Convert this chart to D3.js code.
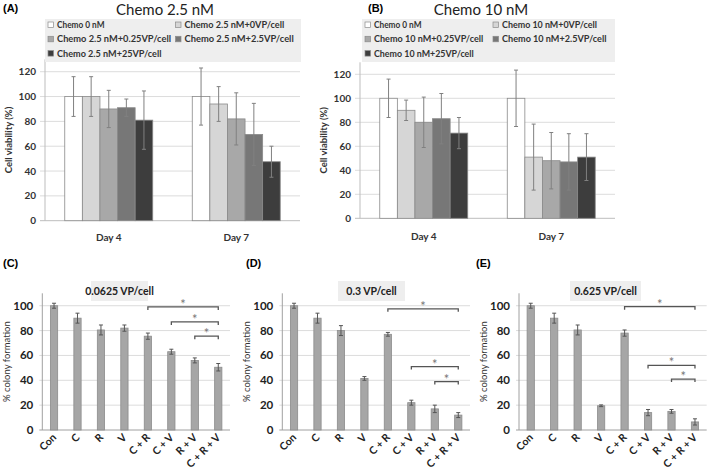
<!DOCTYPE html>
<html>
<head>
<meta charset="utf-8">
<script src="https://cdn.jsdelivr.net/npm/d3@7"></script>
<style>
  body { margin: 0; background: #fff; }
  svg { display: block; font-family: Lato, "Open Sans", sans-serif; }
</style>
</head>
<body>
<svg id="fig" width="709" height="476"></svg>
<script>
// ---- data ----
const days = ["Day 4", "Day 7"];
const legendA = ["Chemo 0 nM", "Chemo 2.5 nM+0VP/cell", "Chemo 2.5 nM+0.25VP/cell", "Chemo 2.5 nM+2.5VP/cell", "Chemo 2.5 nM+25VP/cell"];
const legendB = ["Chemo 0 nM", "Chemo 10 nM+0VP/cell", "Chemo 10 nM+0.25VP/cell", "Chemo 10 nM+2.5VP/cell", "Chemo 10 nM+25VP/cell"];
const viabA = [[100, 100, 90, 91, 81], [100, 94, 82, 69.5, 47.5]];
const viabAErr = [[16, 16, 15, 7, 23.5], [23, 14, 21, 25, 12.5]];
const viabB = [[100, 90, 80, 83, 71], [100, 51, 48, 47, 51]];
const viabBErr = [[16, 8.5, 21, 21, 13], [23.5, 27.5, 23.5, 23.5, 19.5]];
const viabTicks = [0, 20, 40, 60, 80, 100, 120];

const treatments = ["Con", "C", "R", "V", "C + R", "C + V", "R + V", "C + R + V"];
const colonyC = [100, 90, 80.5, 82, 75.5, 63, 56, 50.5];
const colonyCErr = [2, 4, 4, 2.5, 2.5, 2, 2, 3];
const colonyD = [100, 90, 80, 41.5, 77, 22, 17, 12];
const colonyDErr = [2, 4, 4, 1.5, 1.5, 2, 3, 2];
const colonyE = [100, 90, 80.5, 19.5, 78, 14, 15, 6.5];
const colonyEErr = [2, 4, 4, 0.7, 2.5, 2.5, 1.5, 2.5];
const bracketsC = [["C + R", "C + R + V", 99], ["C + V", "C + R + V", 87], ["R + V", "C + R + V", 75.5]];
const bracketsD = [["C + R", "C + R + V", 97.5], ["C + V", "C + R + V", 51], ["R + V", "C + R + V", 39]];
const bracketsE = [["C + R", "C + R + V", 99.2], ["C + V", "C + R + V", 52], ["R + V", "C + R + V", 41]];
const colonyTicks = [0, 20, 40, 60, 80, 100];

const shades = ["#ffffff", "#d6d6d6", "#a8a8a8", "#777777", "#3d3d3d"];

const svg = d3.select("#fig");

function panelLabel(txt, x, y) {
  svg.append("text").attr("x", x).attr("y", y)
    .style("font-family", "Arial, 'Liberation Sans', sans-serif")
    .style("font-size", "11px").style("font-weight", "bold").text(txt);
}

function viabilityPanel(o) {
  const g = svg.append("g");
  const y = d3.scaleLinear().domain([0, 130]).range([o.y0, o.yTop]);
  const x0 = d3.scaleBand().domain(days).range([o.left, o.right]).paddingInner(0.31).paddingOuter(0.155);
  const x1 = d3.scaleBand().domain(d3.range(5)).range([0, x0.bandwidth()]);

  // gridlines
  g.selectAll(".grid").data(viabTicks).join("line")
    .attr("x1", o.left - 5).attr("x2", o.right)
    .attr("y1", d => y(d)).attr("y2", d => y(d))
    .attr("stroke", d => d === 0 ? "#bdbdbd" : "#dcdcdc").attr("stroke-width", 1);
  g.append("line").attr("x1", o.left).attr("x2", o.left).attr("y1", y(130)).attr("y2", y(0))
    .attr("stroke", "#bdbdbd");
  g.selectAll(".tl").data(viabTicks).join("text")
    .attr("x", o.left - 9).attr("y", d => y(d) + 3.5).attr("text-anchor", "end")
    .style("font-size", "10px").style("font-weight", "bold").style("fill", "#333").text(d => d);
  g.append("text").attr("transform", `translate(${o.left - 33},${(y(0) + y(130)) / 2}) rotate(-90)`)
    .attr("text-anchor", "middle").style("font-size", "9.5px").style("font-weight", "bold").style("fill", "#333")
    .text("Cell viability (%)");

  days.forEach((day, di) => {
    const gg = g.append("g").attr("transform", `translate(${x0(day)},0)`);
    gg.selectAll("rect").data(o.vals[di]).join("rect")
      .attr("x", (d, i) => x1(i)).attr("width", x1.bandwidth())
      .attr("y", d => y(d)).attr("height", d => y(0) - y(d))
      .attr("fill", (d, i) => shades[i]).attr("stroke", "#8a8a8a").attr("stroke-width", 0.8);
    o.errs[di].forEach((e, i) => {
      const cx = x1(i) + x1.bandwidth() / 2, v = o.vals[di][i];
      gg.append("line").attr("x1", cx).attr("x2", cx).attr("y1", y(v + e)).attr("y2", y(v - e)).attr("stroke", "#808080");
      [v + e, v - e].forEach(t => gg.append("line").attr("x1", cx - 2).attr("x2", cx + 2)
        .attr("y1", y(t)).attr("y2", y(t)).attr("stroke", "#808080"));
    });
    g.append("text").attr("x", x0(day) + x0.bandwidth() / 2).attr("y", o.dayY).attr("text-anchor", "middle")
      .style("font-size", "10px").style("font-weight", "bold").style("fill", "#333").text(day);
  });

  // title + legend
  g.append("text").attr("x", o.titleX).attr("y", 15).attr("text-anchor", "middle")
    .style("font-size", "15px").style("fill", "#222").text(o.title);
  g.append("rect").attr("x", o.legX).attr("y", 19).attr("width", o.legW).attr("height", 43).attr("fill", "#eeeeee");
  o.legend.forEach((t, i) => {
    const lx = o.legX + 3 + (i % 2) * o.colW, ly = 28 + Math.floor(i / 2) * 14.3;
    g.append("rect").attr("x", lx).attr("y", ly - 6).attr("width", 5.5).attr("height", 5.5)
      .attr("fill", shades[i]).attr("stroke", "#8a8a8a").attr("stroke-width", 0.7);
    g.append("text").attr("x", lx + 9).attr("y", ly).style("font-size", "9.5px").style("font-weight", "bold")
      .style("fill", "#333").attr("textLength", t.length * 4.75).attr("lengthAdjust", "spacingAndGlyphs").text(t);
  });
}

function colonyPanel(o) {
  const g = svg.append("g");
  const y = d3.scaleLinear().domain([0, 110]).range([430, 293.3]);
  const x = d3.scaleBand().domain(treatments).range([o.left, o.right]).paddingInner(0.69).paddingOuter(0.345);
  g.selectAll(".grid").data(colonyTicks).join("line")
    .attr("x1", o.left - 3).attr("x2", o.right)
    .attr("y1", d => y(d)).attr("y2", d => y(d))
    .attr("stroke", d => d === 0 ? "#a0a0a0" : "#dcdcdc");
  g.append("line").attr("x1", o.left).attr("x2", o.left).attr("y1", y(110)).attr("y2", y(0)).attr("stroke", "#a0a0a0");
  g.selectAll(".tl").data(colonyTicks).join("text")
    .attr("x", o.left - 9).attr("y", d => y(d) + 4).attr("text-anchor", "end")
    .style("font-size", "11.5px").style("font-weight", "bold").style("fill", "#222").text(d => d);
  g.append("text").attr("transform", `translate(${o.left - 32},${(y(0) + y(110)) / 2}) rotate(-90)`)
    .attr("text-anchor", "middle").style("font-size", "9.5px").style("fill", "#333").text("% colony formation");

  g.selectAll(".bar").data(o.vals).join("rect")
    .attr("x", (d, i) => x(treatments[i])).attr("width", x.bandwidth())
    .attr("y", d => y(d)).attr("height", d => y(0) - y(d))
    .attr("fill", "#a6a6a6").attr("stroke", "#8c8c8c").attr("stroke-width", 0.8);
  o.errs.forEach((e, i) => {
    const cx = x(treatments[i]) + x.bandwidth() / 2, v = o.vals[i];
    g.append("line").attr("x1", cx).attr("x2", cx).attr("y1", y(v + e)).attr("y2", y(v - e)).attr("stroke", "#555");
    [v + e, v - e].forEach(t => g.append("line").attr("x1", cx - 2).attr("x2", cx + 2)
      .attr("y1", y(t)).attr("y2", y(t)).attr("stroke", "#555"));
  });
  g.selectAll(".xl").data(treatments).join("text")
    .attr("transform", d => `translate(${x(d) + x.bandwidth() / 2 + 3},${438}) rotate(-45)`)
    .attr("text-anchor", "end").style("font-size", "10.5px").style("font-weight", "bold").style("fill", "#222")
    .text(d => d);

  o.brackets.forEach(([a, b, v]) => {
    const xa = x(a) + x.bandwidth() / 2, xb = x(b) + x.bandwidth() / 2, yy = y(v);
    g.append("path").attr("d", `M${xa},${yy + 3}V${yy}H${xb}V${yy + 3}`)
      .attr("fill", "none").attr("stroke", "#555").attr("stroke-width", 1.3);
    g.append("text").attr("x", (xa + xb) / 2).attr("y", yy + 2).attr("text-anchor", "middle")
      .style("font-size", "13px").style("fill", "#777").text("*");
  });

  g.append("rect").attr("x", o.boxX).attr("y", 281).attr("width", o.boxW).attr("height", 20).attr("fill", "#eeeeee");
  g.append("text").attr("x", o.boxX + o.boxW / 2).attr("y", 295).attr("text-anchor", "middle")
    .style("font-size", "10.5px").style("font-weight", "bold").style("fill", "#222").text(o.title);
}

panelLabel("(A)", 3, 12);
panelLabel("(B)", 368, 12);
panelLabel("(C)", 3, 267);
panelLabel("(D)", 246, 267);
panelLabel("(E)", 476, 267);

viabilityPanel({ left: 45, right: 300, y0: 220.7, yTop: 59.3, vals: viabA, errs: viabAErr, dayY: 241,
  title: "Chemo 2.5 nM", titleX: 165, legend: legendA, legX: 45, legW: 256, colW: 127.5 });
viabilityPanel({ left: 360, right: 615, y0: 218.3, yTop: 62.3, vals: viabB, errs: viabBErr, dayY: 240,
  title: "Chemo 10 nM", titleX: 481, legend: legendB, legX: 362, legW: 253, colW: 128 });

colonyPanel({ left: 42.3, right: 230, vals: colonyC, errs: colonyCErr, brackets: bracketsC,
  title: "0.0625 VP/cell", boxX: 91, boxW: 57 });
colonyPanel({ left: 282.3, right: 470, vals: colonyD, errs: colonyDErr, brackets: bracketsD,
  title: "0.3 VP/cell", boxX: 338, boxW: 67 });
colonyPanel({ left: 519, right: 706.7, vals: colonyE, errs: colonyEErr, brackets: bracketsE,
  title: "0.625 VP/cell", boxX: 570, boxW: 71 });
</script>
</body>
</html>
